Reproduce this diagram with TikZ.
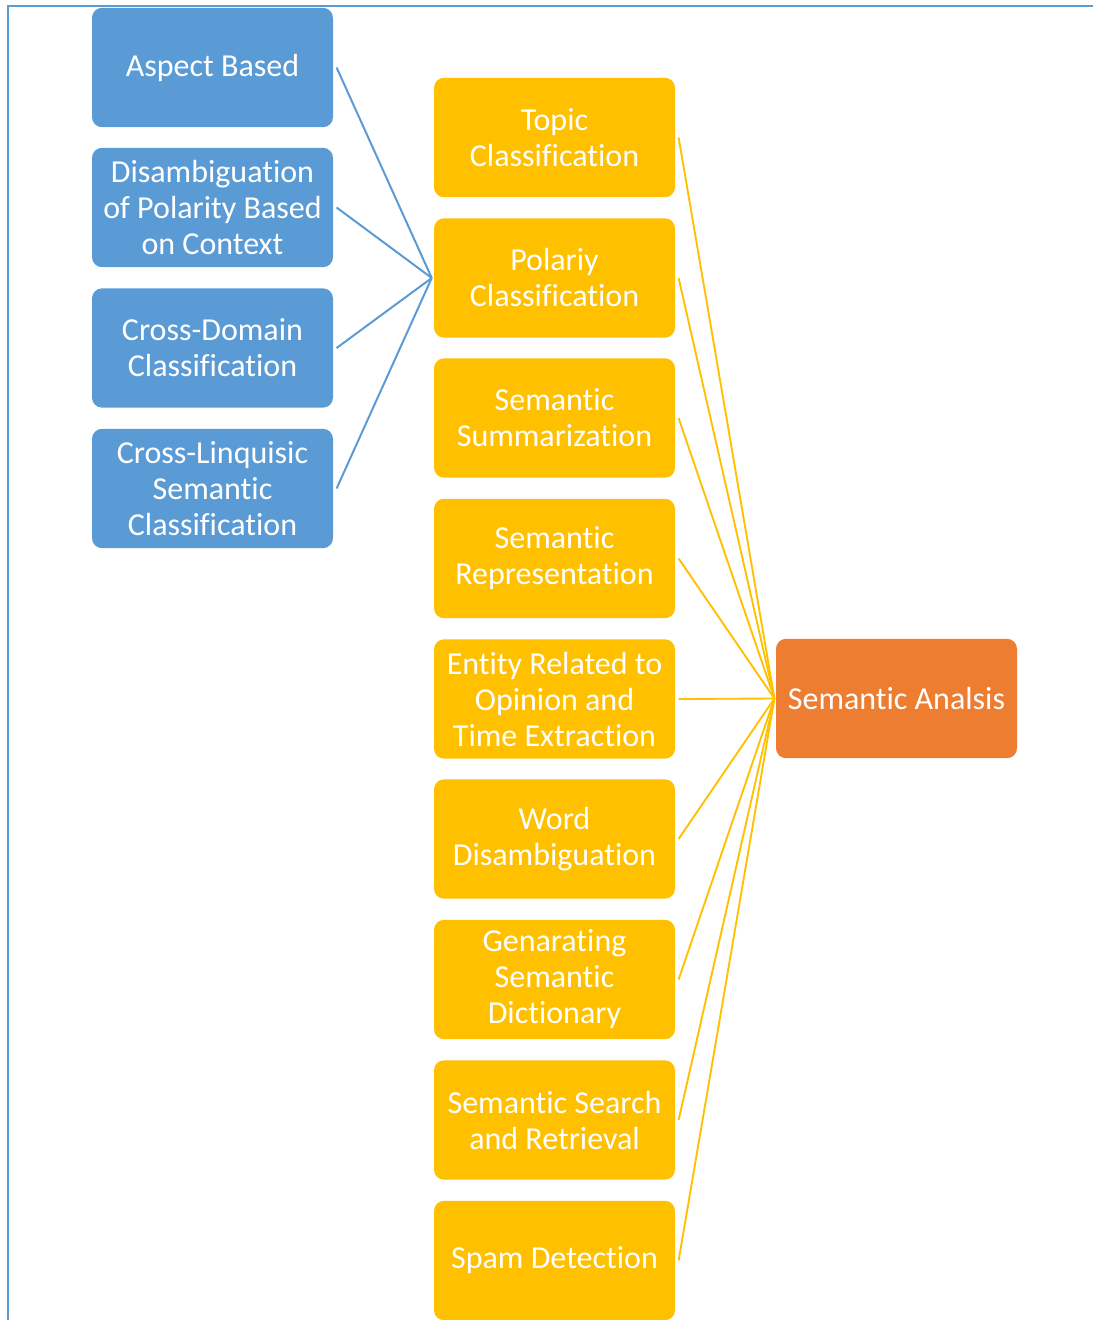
\documentclass[tikz,border=0pt]{standalone}
\usepackage{fontspec}
\setmainfont{Carlito}[RawFeature=-liga]
\definecolor{cblue}{HTML}{5B9BD5}
\definecolor{cyel}{HTML}{FFC000}
\definecolor{corg}{HTML}{ED7D31}
\begin{document}
\begin{tikzpicture}[x=0.75pt,y=-0.75pt,
  box/.style={rounded corners=7.5pt,minimum width=180.75pt,minimum height=89.5pt,
    inner sep=0pt,align=center,text=white,font=\fontsize{24}{27}\selectfont},
  bbox/.style={box,fill=cblue},
  ybox/.style={box,fill=cyel},
  obox/.style={box,fill=corg},
  bline/.style={draw=cblue,line width=1.5pt},
  yline/.style={draw=cyel,line width=1.4pt}]
\useasboundingbox (0,0) rectangle (1093,1320);
\draw[cblue,line width=2.2pt] (8,1320) -- (8,6) -- (1093,6);
% blue boxes
\node[bbox] (b1) at (212.5,67.5) {Aspect Based};
\node[bbox] (b2) at (212.5,207.5) {Disambiguation\\of Polarity Based\\on Context};
\node[bbox] (b3) at (212.5,348) {Cross-Domain\\Classification};
\node[bbox] (b4) at (212.5,488.5) {Cross-Linquisic\\Semantic\\Classification};
% yellow boxes
\node[ybox] (y1) at (554.5,137.5) {Topic\\Classification};
\node[ybox] (y2) at (554.5,278) {Polariy\\Classification};
\node[ybox] (y3) at (554.5,418) {Semantic\\Summarization};
\node[ybox] (y4) at (554.5,558.5) {Semantic\\Representation};
\node[ybox] (y5) at (554.5,699) {Entity Related to\\Opinion and\\Time Extraction};
\node[ybox] (y6) at (554.5,839) {Word\\Disambiguation};
\node[ybox] (y7) at (554.5,979.5) {Genarating\\Semantic\\Dictionary};
\node[ybox] (y8) at (554.5,1120) {Semantic Search\\and Retrieval};
\node[ybox] (y9) at (554.5,1260.5) {Spam Detection};
% orange
\node[obox] (o) at (896.5,698.5) {Semantic Analsis};
% blue connectors
\foreach \b in {b1,b2,b3,b4}
  \draw[bline] ([xshift=2.5pt]\b.east) -- ([xshift=-1.5pt]y2.west);
% yellow connectors
\foreach \y in {y1,y2,y3,y4,y5,y6,y7,y8,y9}
  \draw[yline] ([xshift=2.5pt]\y.east) -- ([xshift=-1pt]o.west);
\end{tikzpicture}
\end{document}
